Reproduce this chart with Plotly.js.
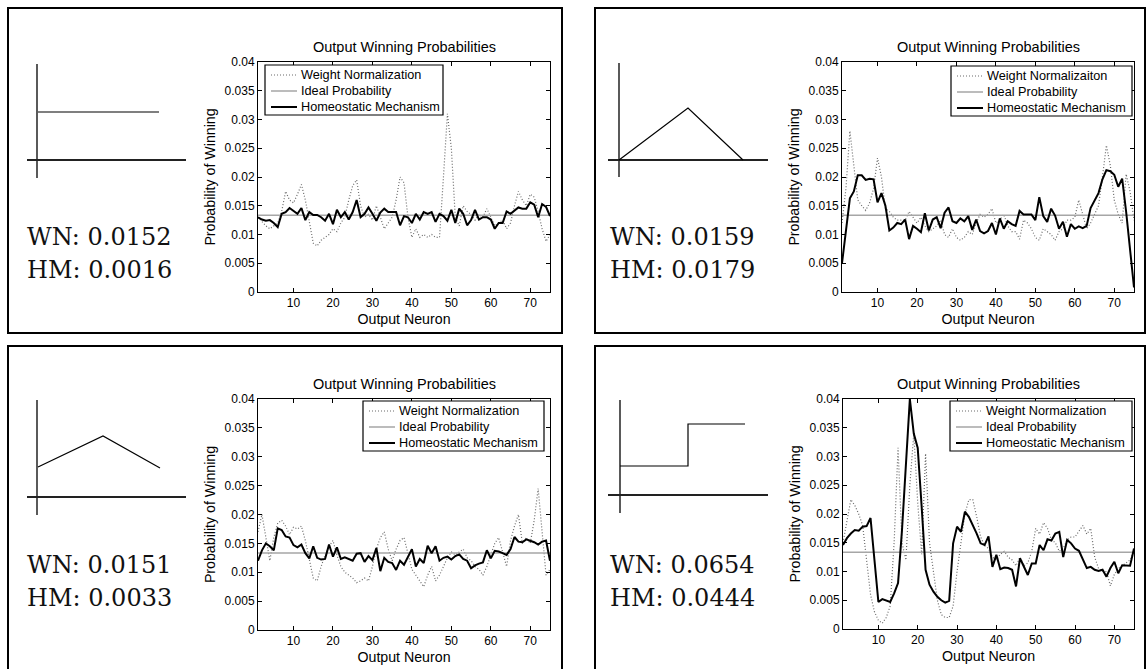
<!DOCTYPE html>
<html>
<head>
<meta charset="utf-8">
<script src="https://cdn.plot.ly/plotly-3.0.1.min.js"></script>
<style>html,body{margin:0;padding:0;background:#fff;}#chart{width:1147px;height:669px;}</style>
</head>
<body>
<div id="chart"></div>
<script>
// ---------------- DATA ----------------
const neurons = [1,2,3,4,5,6,7,8,9,10,11,12,13,14,15,16,17,18,19,20,21,22,23,24,25,26,27,28,29,30,31,32,33,34,35,36,37,38,39,40,41,42,43,44,45,46,47,48,49,50,51,52,53,54,55,56,57,58,59,60,61,62,63,64,65,66,67,68,69,70,71,72,73,74,75];
const idealX = [1, 75];
const idealY = [0.01333, 0.01333];

// Panel A: uniform input
const wnA = [0.0130,0.0122,0.0115,0.0110,0.0115,0.0120,0.0140,0.0175,0.0160,0.0155,0.0170,0.0187,0.0160,0.0120,0.0085,0.0080,0.0090,0.0095,0.0100,0.0110,0.0105,0.0120,0.0130,0.0160,0.0185,0.0195,0.0150,0.0130,0.0135,0.0125,0.0150,0.0130,0.0110,0.0120,0.0130,0.0160,0.0200,0.0190,0.0130,0.0095,0.0110,0.0095,0.0100,0.0095,0.0100,0.0095,0.0095,0.0200,0.0310,0.0250,0.0130,0.0115,0.0150,0.0140,0.0135,0.0125,0.0135,0.0130,0.0145,0.0130,0.0115,0.0120,0.0125,0.0110,0.0120,0.0150,0.0175,0.0160,0.0150,0.0170,0.0165,0.0140,0.0110,0.0088,0.0100];
const hmA = [0.0130,0.0126,0.0124,0.0125,0.0120,0.0113,0.0136,0.0139,0.0146,0.0141,0.0136,0.0146,0.0125,0.0139,0.0134,0.0134,0.0130,0.0124,0.0136,0.0118,0.0143,0.0130,0.0139,0.0126,0.0139,0.0160,0.0130,0.0136,0.0147,0.0136,0.0124,0.0138,0.0145,0.0139,0.0139,0.0139,0.0116,0.0132,0.0130,0.0120,0.0136,0.0126,0.0139,0.0136,0.0139,0.0122,0.0136,0.0132,0.0124,0.0143,0.0120,0.0145,0.0136,0.0116,0.0125,0.0143,0.0126,0.0130,0.0130,0.0126,0.0110,0.0120,0.0120,0.0140,0.0136,0.0141,0.0147,0.0145,0.0145,0.0156,0.0152,0.0130,0.0153,0.0148,0.0132];

// Panel B: triangular input from zero
const wnB = [0.0120,0.0180,0.0280,0.0220,0.0160,0.0150,0.0142,0.0155,0.0180,0.0233,0.0200,0.0145,0.0140,0.0130,0.0125,0.0125,0.0125,0.0140,0.0130,0.0120,0.0130,0.0115,0.0105,0.0110,0.0115,0.0125,0.0100,0.0095,0.0110,0.0095,0.0090,0.0095,0.0105,0.0100,0.0120,0.0135,0.0130,0.0135,0.0145,0.0120,0.0125,0.0135,0.0115,0.0105,0.0105,0.0092,0.0125,0.0120,0.0110,0.0095,0.0090,0.0110,0.0105,0.0100,0.0090,0.0105,0.0110,0.0125,0.0125,0.0130,0.0160,0.0135,0.0110,0.0120,0.0135,0.0150,0.0200,0.0255,0.0220,0.0160,0.0135,0.0120,0.0205,0.0175,0.0125];
const hmB = [0.0050,0.0110,0.0163,0.0175,0.0203,0.0203,0.0195,0.0197,0.0196,0.0156,0.0172,0.0150,0.0107,0.0112,0.0120,0.0118,0.0126,0.0092,0.0115,0.0110,0.0104,0.0137,0.0107,0.0126,0.0130,0.0111,0.0138,0.0147,0.0123,0.0120,0.0128,0.0123,0.0132,0.0108,0.0126,0.0106,0.0102,0.0106,0.0120,0.0100,0.0128,0.0110,0.0123,0.0118,0.0115,0.0141,0.0135,0.0135,0.0135,0.0125,0.0165,0.0132,0.0122,0.0145,0.0133,0.0110,0.0122,0.0096,0.0118,0.0110,0.0114,0.0111,0.0115,0.0146,0.0160,0.0172,0.0196,0.0212,0.0210,0.0204,0.0183,0.0197,0.0140,0.0075,0.0008];

// Panel C: triangular input on a pedestal
const wnC = [0.0170,0.0200,0.0160,0.0120,0.0160,0.0185,0.0190,0.0180,0.0165,0.0178,0.0175,0.0180,0.0155,0.0120,0.0090,0.0085,0.0110,0.0130,0.0145,0.0155,0.0130,0.0110,0.0100,0.0095,0.0090,0.0082,0.0085,0.0090,0.0085,0.0110,0.0140,0.0160,0.0170,0.0140,0.0120,0.0140,0.0155,0.0160,0.0130,0.0105,0.0095,0.0085,0.0075,0.0095,0.0110,0.0085,0.0095,0.0110,0.0125,0.0135,0.0130,0.0135,0.0140,0.0125,0.0120,0.0110,0.0105,0.0095,0.0110,0.0130,0.0150,0.0160,0.0135,0.0110,0.0155,0.0180,0.0200,0.0150,0.0160,0.0150,0.0190,0.0245,0.0170,0.0095,0.0105];
const hmC = [0.0120,0.0138,0.0150,0.0145,0.0138,0.0176,0.0173,0.0162,0.0160,0.0147,0.0143,0.0148,0.0133,0.0124,0.0145,0.0125,0.0122,0.0123,0.0148,0.0127,0.0143,0.0123,0.0126,0.0123,0.0120,0.0132,0.0133,0.0118,0.0128,0.0121,0.0142,0.0102,0.0125,0.0118,0.0116,0.0104,0.0120,0.0113,0.0127,0.0140,0.0110,0.0123,0.0116,0.0146,0.0133,0.0145,0.0120,0.0125,0.0127,0.0122,0.0128,0.0131,0.0123,0.0120,0.0107,0.0112,0.0115,0.0117,0.0138,0.0124,0.0137,0.0136,0.0133,0.0130,0.0140,0.0161,0.0153,0.0152,0.0157,0.0155,0.0152,0.0148,0.0153,0.0155,0.0120];

// Panel D: step input
const wnD = [0.0150,0.0190,0.0225,0.0215,0.0200,0.0180,0.0125,0.0060,0.0030,0.0015,0.0010,0.0020,0.0040,0.0150,0.0315,0.0150,0.0120,0.0250,0.0340,0.0220,0.0130,0.0305,0.0150,0.0100,0.0050,0.0025,0.0020,0.0020,0.0040,0.0100,0.0150,0.0200,0.0225,0.0225,0.0195,0.0160,0.0145,0.0140,0.0125,0.0120,0.0130,0.0135,0.0125,0.0120,0.0110,0.0125,0.0110,0.0115,0.0135,0.0175,0.0165,0.0185,0.0175,0.0155,0.0150,0.0135,0.0140,0.0155,0.0160,0.0160,0.0170,0.0180,0.0165,0.0175,0.0125,0.0105,0.0100,0.0100,0.0075,0.0095,0.0105,0.0110,0.0115,0.0120,0.0135];
const hmD = [0.0146,0.0158,0.0166,0.0172,0.0171,0.0178,0.0179,0.0193,0.0120,0.0047,0.0052,0.0050,0.0047,0.0062,0.0080,0.0172,0.0277,0.0400,0.0340,0.0315,0.0213,0.0103,0.0077,0.0065,0.0056,0.0050,0.0046,0.0049,0.0149,0.0178,0.0169,0.0204,0.0195,0.0181,0.0166,0.0149,0.0146,0.0161,0.0108,0.0129,0.0104,0.0107,0.0106,0.0103,0.0074,0.0123,0.0108,0.0094,0.0114,0.0114,0.0146,0.0137,0.0156,0.0154,0.0166,0.0169,0.0125,0.0155,0.0149,0.0140,0.0136,0.0120,0.0106,0.0108,0.0103,0.0101,0.0103,0.0091,0.0106,0.0117,0.0097,0.0111,0.0111,0.0110,0.0140];

const wnLabels = ["Weight Normalization", "Weight Normalizaiton", "Weight Normalization", "Weight Normalization"];
const idealLabel = "Ideal Probability";
const hmLabel = "Homeostatic Mechanism";
const errWN = ["WN: 0.0152", "WN: 0.0159", "WN: 0.0151", "WN: 0.0654"];
const errHM = ["HM: 0.0016", "HM: 0.0179", "HM: 0.0033", "HM: 0.0444"];
const yTickVals = [0, 0.005, 0.01, 0.015, 0.02, 0.025, 0.03, 0.035, 0.04];
const yTickText = ["0", "0.005", "0.01", "0.015", "0.02", "0.025", "0.03", "0.035", "0.04"];
const xTickVals = [10, 20, 30, 40, 50, 60, 70];
const plotTitle = "Output Winning Probabilities";
const xTitle = "Output Neuron";
const yTitle = "Probability of Winning";

// ---------------- LAYOUT ----------------
const W = 1147, H = 669;
const fx = p => p / W;
const fy = p => 1 - p / H;
const SANS = "Liberation Sans, Arial, Helvetica, sans-serif";
const SERIF = "DejaVu Serif, Liberation Serif, serif";

const wnSets = [wnA, wnB, wnC, wnD];
const hmSets = [hmA, hmB, hmC, hmD];

const styleWN = {color: "#6a6a6a", width: 1.2, dash: "1px,2px"};
const styleIdeal = {color: "#a6a6a6", width: 1.5};
const styleHM = {color: "#000", width: 2};

// plot area pixel boxes [left, right, top, bottom]
const areas = [[258, 550, 62, 292], [842, 1134, 62, 292], [258, 550, 399, 630], [843, 1134, 399, 629]];
// legend boxes [left, top, right]
const legendBox = [[265, 65, 443], [951, 66, 1132], [363, 401, 544], [950, 401, 1132]];
// frame boxes [x0, y0, x1, y1]
const frames = [[8, 8, 562, 333], [595, 8, 1145, 333], [8, 346, 562, 672], [595, 346, 1145, 672]];
// text positions [x, yWN, yHM]
const textPos = [[25, 237, 270], [608, 237, 270], [25, 565, 598], [608, 565, 598]];
// sketches: axes lines and curves (pixel coordinates)
const sketches = [
  {v: [37, 64, 178], h: [27, 186, 160], path: [[38, 112], [159, 112]]},
  {v: [619, 63, 177], h: [608, 768, 160], path: [[619, 160], [688, 108], [743, 160]]},
  {v: [37, 400, 515], h: [27, 186, 497], path: [[38, 467], [103, 436], [160, 468]]},
  {v: [620, 400, 513], h: [608, 768, 495], path: [[620, 466], [688, 466], [688, 424], [745, 424]]}
];

const traces = [];
const layout = {
  width: W, height: H,
  margin: {l: 0, r: 0, t: 0, b: 0},
  paper_bgcolor: "#fff", plot_bgcolor: "#fff",
  font: {family: SANS, color: "#000", size: 12},
  showlegend: false,
  shapes: [], annotations: []
};

function pline(x0, y0, x1, y1, line) {
  return {type: "line", xref: "paper", yref: "paper", x0: fx(x0), x1: fx(x1), y0: fy(y0), y1: fy(y1), line: line, layer: "above"};
}
function ptext(text, x, y, xanchor, font) {
  return {text: text, x: fx(x), y: fy(y), xref: "paper", yref: "paper", xanchor: xanchor, yanchor: "middle",
    showarrow: false, font: font};
}

for (let k = 0; k < 4; k++) {
  const n = k + 1;
  const xa = n === 1 ? "x" : "x" + n;
  const ya = n === 1 ? "y" : "y" + n;
  traces.push({x: neurons, y: wnSets[k], xaxis: xa, yaxis: ya, type: "scatter", mode: "lines",
    name: wnLabels[k], line: styleWN});
  traces.push({x: idealX, y: idealY, xaxis: xa, yaxis: ya, type: "scatter", mode: "lines",
    name: idealLabel, line: styleIdeal});
  traces.push({x: neurons, y: hmSets[k], xaxis: xa, yaxis: ya, type: "scatter", mode: "lines",
    name: hmLabel, line: styleHM});

  const [l, r, t, b] = areas[k];
  const axBase = {showline: true, linecolor: "#000", linewidth: 1, mirror: "ticks", ticks: "inside",
    ticklen: 4, tickcolor: "#000", showgrid: false, zeroline: false, tickfont: {family: SANS, size: 12, color: "#000"}, fixedrange: true};
  layout["xaxis" + (n === 1 ? "" : n)] = Object.assign({}, axBase, {
    domain: [fx(l), fx(r)], anchor: ya, range: [1, 75], tickmode: "array", tickvals: xTickVals,
    ticktext: xTickVals.map(String),
    title: {text: xTitle, font: {family: SANS, size: 14.2, color: "#000"}, standoff: 4}
  });
  layout["yaxis" + (n === 1 ? "" : n)] = Object.assign({}, axBase, {
    domain: [fy(b), fy(t)], anchor: xa, range: [0, 0.04], tickmode: "array", tickvals: yTickVals, ticktext: yTickText,
    title: {text: yTitle, font: {family: SANS, size: 14.2, color: "#000"}, standoff: 5}
  });

  // legend (box, line samples, labels)
  const [lx, lt, lr] = legendBox[k];
  const lb = lt + 50;
  layout.shapes.push({type: "rect", xref: "paper", yref: "paper", x0: fx(lx), x1: fx(lr), y0: fy(lb), y1: fy(lt),
    line: {color: "#000", width: 1.2}, fillcolor: "#fff", layer: "above"});
  const rows = [lt + 10, lt + 26, lt + 42];
  const styles = [styleWN, styleIdeal, styleHM];
  const names = [wnLabels[k], idealLabel, hmLabel];
  for (let j = 0; j < 3; j++) {
    layout.shapes.push(pline(lx + 6, rows[j], lx + 32, rows[j], styles[j]));
    layout.annotations.push(ptext(names[j], lx + 34, rows[j], "left", {family: SANS, size: 12.7, color: "#000"}));
  }

  // subplot title
  layout.annotations.push(ptext(plotTitle, (l + r) / 2, t - 15, "center", {family: SANS, size: 14.5, color: "#000"}));
  // error texts
  const tp = textPos[k];
  layout.annotations.push(ptext(errWN[k], tp[0], tp[1], "left", {family: SERIF, size: 24, color: "#111"}));
  layout.annotations.push(ptext(errHM[k], tp[0], tp[2], "left", {family: SERIF, size: 24, color: "#111"}));

  // frame
  const f = frames[k];
  layout.shapes.push({type: "rect", xref: "paper", yref: "paper", x0: fx(f[0]), x1: fx(f[2]), y0: fy(f[3]), y1: fy(f[1]),
    line: {color: "#000", width: 2}, fillcolor: "rgba(0,0,0,0)", layer: "above"});
  // sketch
  const s = sketches[k];
  layout.shapes.push(pline(s.v[0], s.v[1], s.v[0], s.v[2], {color: "#000", width: 1.3}));
  layout.shapes.push(pline(s.h[0], s.h[2], s.h[1], s.h[2], {color: "#222", width: 2}));
  let d = "";
  s.path.forEach((pt, i) => { d += (i === 0 ? "M " : " L ") + fx(pt[0]) + "," + fy(pt[1]); });
  layout.shapes.push({type: "path", xref: "paper", yref: "paper", path: d, line: {color: "#000", width: 1.2}});
}

Plotly.newPlot("chart", traces, layout, {staticPlot: true, displayModeBar: false});
</script>
</body>
</html>
